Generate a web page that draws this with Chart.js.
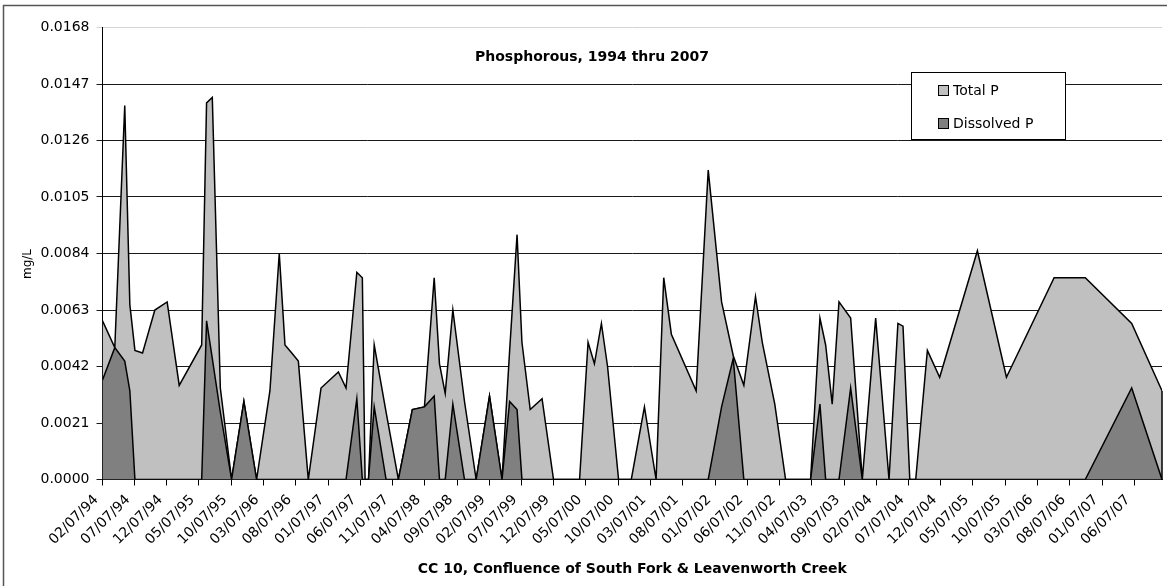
<!DOCTYPE html>
<html>
<head>
<meta charset="utf-8">
<title>Phosphorous, 1994 thru 2007</title>
<script src="https://cdn.jsdelivr.net/npm/chart.js@4.4.0/dist/chart.umd.min.js"></script>
<style>
  html, body { margin: 0; padding: 0; background: #fff; }
</style>
</head>
<body>
<canvas id="chart" width="1167" height="586"></canvas>
<script>
// Sampling dates (yyyy-mm-dd) shared by both series
const sampleDates = [
  "1994-02-07", "1994-04-06", "1994-05-23", "1994-06-16", "1994-07-10", "1994-08-15",
  "1994-10-12", "1994-12-09", "1995-02-04", "1995-05-21", "1995-06-13", "1995-07-10",
  "1995-08-17", "1995-10-09", "1995-12-06", "1996-02-04", "1996-04-07", "1996-05-21",
  "1996-06-17", "1996-07-19", "1996-08-19", "1996-10-05", "1996-12-04", "1997-02-24",
  "1997-04-01", "1997-05-22", "1997-06-17", "1997-06-30", "1997-07-16", "1997-08-12",
  "1997-10-07", "1997-12-04", "1998-02-08", "1998-04-06", "1998-05-22", "1998-06-16",
  "1998-07-13", "1998-08-18", "1998-10-12", "1998-12-06", "1999-02-07", "1999-04-07",
  "1999-05-13", "1999-06-17", "1999-07-10", "1999-08-18", "1999-10-13", "1999-12-06",
  "2000-04-07", "2000-05-17", "2000-06-16", "2000-07-19", "2000-08-17", "2000-10-08",
  "2000-12-07", "2001-02-07", "2001-04-03", "2001-05-09", "2001-06-14", "2001-10-09",
  "2001-12-05", "2002-02-06", "2002-04-02", "2002-05-22", "2002-07-16", "2002-08-17",
  "2002-10-15", "2002-12-05", "2003-04-02", "2003-05-16", "2003-06-12", "2003-07-13",
  "2003-08-14", "2003-10-08", "2003-12-02", "2004-02-03", "2004-04-06", "2004-05-18",
  "2004-06-11", "2004-07-13", "2004-08-10", "2004-10-04", "2004-12-01", "2005-05-28",
  "2005-10-12", "2006-05-25", "2006-10-19", "2007-05-26", "2007-10-16",
];

// mg/L
const totalP = [
  0.0059, 0.0049, 0.0139, 0.0065, 0.0048, 0.0047,
  0.0063, 0.0066, 0.0035, 0.0050, 0.0140, 0.0142,
  0.0034, 0, 0.0029, 0, 0.0033, 0.0084,
  0.0050, 0.0047, 0.0044, 0, 0.0034, 0.0040,
  0.0034, 0.0077, 0.0075, 0, 0, 0.0050,
  0.0025, 0, 0.0026, 0.0027, 0.0075, 0.0043,
  0.0032, 0.0063, 0.0029, 0, 0.0031, 0,
  0.0048, 0.0091, 0.0051, 0.0026, 0.0030, 0,
  0, 0.0051, 0.0043, 0.0058, 0.0042, 0,
  0, 0.0027, 0, 0.0075, 0.0054, 0.0033,
  0.0115, 0.0066, 0.0046, 0.0035, 0.0068, 0.0051,
  0.0028, 0, 0, 0.0060, 0.0050, 0.0028,
  0.0066, 0.0060, 0, 0.0060, 0, 0.0058,
  0.0057, 0, 0, 0.0048, 0.0038, 0.0085,
  0.0038, 0.0075, 0.0075, 0.0058, 0.0033,
];

const dissolvedP = [
  0.0037, 0.0049, 0.0044, 0.0033, 0, 0,
  0, 0, 0, 0, 0.0059, 0.0045,
  0.0025, 0, 0.0029, 0, 0, 0,
  0, 0, 0, 0, 0, 0,
  0, 0.0030, 0, 0, 0, 0.0027,
  0, 0, 0.0026, 0.0027, 0.0031, 0,
  0, 0.0028, 0, 0, 0.0031, 0,
  0.0029, 0.0026, 0, 0, 0, 0,
  0, 0, 0, 0, 0, 0,
  0, 0, 0, 0, 0, 0,
  0, 0.0027, 0.0045, 0, 0, 0,
  0, 0, 0, 0.0028, 0, 0,
  0, 0.0034, 0, 0, 0, 0,
  0, 0, 0, 0, 0, 0,
  0, 0, 0, 0.0034, 0,
];

const xTickLabels = [
  "02/07/94", "07/07/94", "12/07/94", "05/07/95", "10/07/95", "03/07/96", "08/07/96",
  "01/07/97", "06/07/97", "11/07/97", "04/07/98", "09/07/98", "02/07/99", "07/07/99",
  "12/07/99", "05/07/00", "10/07/00", "03/07/01", "08/07/01", "01/07/02", "06/07/02",
  "11/07/02", "04/07/03", "09/07/03", "02/07/04", "07/07/04", "12/07/04", "05/07/05",
  "10/07/05", "03/07/06", "08/07/06", "01/07/07", "06/07/07",
];

const chartTitle = "Phosphorous, 1994 thru 2007";
const xTitle = "CC 10, Confluence of South Fork & Leavenworth Creek";
const yTitle = "mg/L";

const FONT = "'DejaVu Sans', Verdana, sans-serif";
Chart.defaults.font.family = FONT;
Chart.defaults.font.size = 14;
Chart.defaults.color = "#000";

// day numbers for the linear x axis
const dayOf = (iso) => {
  const [y, m, d] = iso.split("-").map(Number);
  return Date.UTC(y, m - 1, d) / 864e5;
};
const dayOfLabel = (s) => {
  const [m, d, y] = s.split("/").map(Number);
  return Date.UTC(y < 50 ? 2000 + y : 1900 + y, m - 1, d) / 864e5;
};

const toPoints = (vals) => sampleDates.map((d, i) => ({ x: dayOf(d), y: vals[i] }));

// title, y title, legend box, outer frame, closing edge of the last area
const decor = {
  id: "decor",
  afterDatasetsDraw(chart) {
    const c = chart.ctx;
    const yScale = chart.scales.y;
    const meta = chart.getDatasetMeta(0);
    const last = meta.data[meta.data.length - 1];
    c.save();
    c.strokeStyle = "#000";
    c.lineWidth = 1.5;
    c.beginPath();
    c.moveTo(last.x, last.y);
    c.lineTo(last.x, yScale.getPixelForValue(0));
    c.stroke();
    c.restore();
  },
  afterDraw(chart) {
    const c = chart.ctx;
    c.save();
    c.fillStyle = "#000";
    c.font = "bold 14px " + FONT;
    c.textAlign = "center";
    c.textBaseline = "middle";
    c.fillText(chartTitle, 592, 57);

    c.save();
    c.translate(27.5, 264);
    c.rotate(-Math.PI / 2);
    c.font = "12px " + FONT;
    c.fillText(yTitle, 0, 0);
    c.restore();

    // legend
    c.fillStyle = "#fff";
    c.fillRect(911, 72, 155, 68);
    c.strokeStyle = "#000";
    c.lineWidth = 1;
    c.strokeRect(911.5, 72.5, 154, 67);
    c.font = "14px " + FONT;
    c.textAlign = "left";
    const rows = [91, 124];
    chart.data.datasets.forEach((ds, i) => {
      const y = rows[i];
      c.fillStyle = ds.backgroundColor;
      c.fillRect(938.5, y - 5.5, 10, 10);
      c.strokeStyle = "#000";
      c.strokeRect(938.5, y - 5.5, 10, 10);
      c.fillStyle = "#000";
      c.fillText(ds.label, 953, y);
    });

    // outer frame (right and bottom edges fall outside the picture)
    c.strokeStyle = "#555";
    c.lineWidth = 1.5;
    c.strokeRect(3.5, 5.5, 1175, 595);
    c.restore();
  },
};

const ctx = document.getElementById("chart").getContext("2d");
new Chart(ctx, {
  type: "line",
  data: {
    datasets: [
      {
        label: "Total P",
        data: toPoints(totalP),
        fill: "origin",
        backgroundColor: "#c0c0c0",
        borderColor: "#000",
        borderWidth: 1.5,
        pointRadius: 0,
        tension: 0,
        order: 1,
      },
      {
        label: "Dissolved P",
        data: toPoints(dissolvedP),
        fill: "origin",
        backgroundColor: "#808080",
        borderColor: "#000",
        borderWidth: 1.5,
        pointRadius: 0,
        tension: 0,
        order: 0,
      },
    ],
  },
  options: {
    responsive: false,
    animation: false,
    layout: { padding: { top: 27.5, right: 5, bottom: 0, left: 0 } },
    plugins: {
      legend: { display: false },
      tooltip: { enabled: false },
    },
    scales: {
      x: {
        type: "linear",
        min: dayOf(sampleDates[0]),
        max: dayOf(sampleDates[sampleDates.length - 1]),
        afterBuildTicks: (scale) => {
          scale.ticks = xTickLabels.map((l) => ({ value: dayOfLabel(l) }));
        },
        afterFit: (scale) => {
          scale.height = 106.5;
        },
        ticks: {
          autoSkip: false,
          minRotation: 45,
          maxRotation: 45,
          padding: 0,
          callback: (v, i) => xTickLabels[i] + "  ",
        },
        grid: {
          display: true,
          drawOnChartArea: false,
          drawTicks: true,
          tickLength: 6,
          color: "#000",
        },
        border: { display: true, color: "#000", width: 1 },
        title: {
          display: true,
          text: xTitle,
          font: { weight: "bold", size: 14 },
          padding: { top: 0, bottom: 8 },
        },
      },
      y: {
        min: 0,
        max: 0.0168,
        afterFit: (scale) => {
          scale.width = 102.5;
        },
        ticks: {
          stepSize: 0.0021,
          padding: 7,
          callback: (v) => v.toFixed(4),
        },
        grid: {
          tickLength: 6,
          color: (c) => (c.tick && c.tick.value > 0.0167 ? "#d4d4d4" : "#1a1a1a"),
        },
        border: { display: true, color: "#000", width: 1 },
      },
    },
  },
  plugins: [decor],
});
</script>
</body>
</html>
